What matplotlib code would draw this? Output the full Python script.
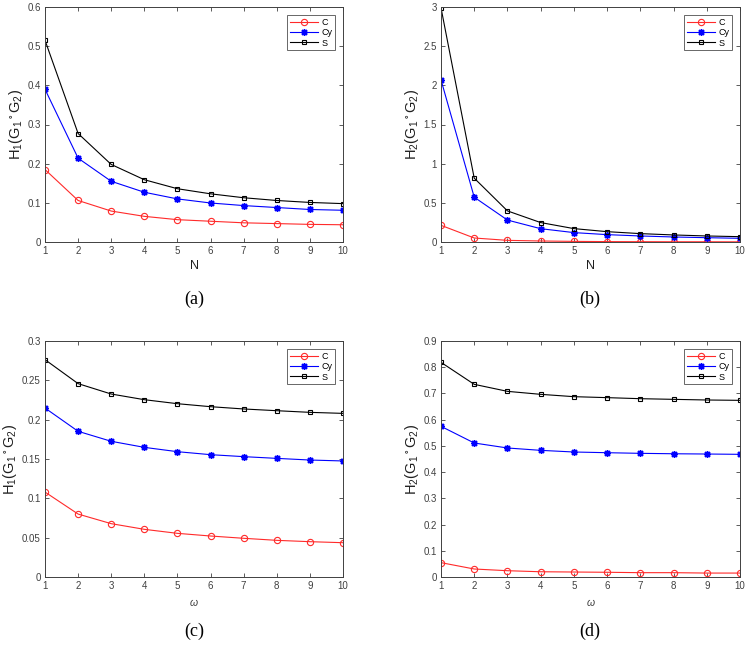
import matplotlib
matplotlib.use('Agg')
import matplotlib.pyplot as plt
import numpy as np

plt.rcParams['font.family'] = ['Liberation Sans', 'DejaVu Sans']
plt.rcParams['mathtext.fontset'] = 'custom'
plt.rcParams['mathtext.rm'] = 'Liberation Sans'
plt.rcParams['mathtext.it'] = 'Liberation Sans:italic'

# data
x = [1, 2, 3, 4, 5, 6, 7, 8, 9, 10]

# (a) H1 vs N
a_C = [0.185, 0.106, 0.079, 0.0655, 0.057, 0.053, 0.049, 0.047, 0.045, 0.044]
a_Cy = [0.390, 0.214, 0.155, 0.127, 0.110, 0.0996, 0.093, 0.088, 0.083, 0.081]
a_S = [0.515, 0.277, 0.198, 0.159, 0.136, 0.123, 0.113, 0.106, 0.101, 0.098]

# (b) H2 vs N
b_C = [0.213, 0.051, 0.021, 0.013, 0.008, 0.005, 0.004, 0.003, 0.003, 0.002]
b_Cy = [2.07, 0.572, 0.280, 0.170, 0.120, 0.094, 0.077, 0.064, 0.055, 0.047]
b_S = [2.99, 0.815, 0.397, 0.248, 0.171, 0.132, 0.107, 0.090, 0.077, 0.068]

# (c) H1 vs omega
c_C = [0.108, 0.080, 0.0678, 0.0606, 0.0555, 0.0521, 0.0492, 0.0466, 0.0449, 0.0436]
c_Cy = [0.2148, 0.1852, 0.1725, 0.1648, 0.1593, 0.1555, 0.153, 0.1508, 0.1487, 0.1475]
c_S = [0.2763, 0.2458, 0.2326, 0.2254, 0.2203, 0.2165, 0.2136, 0.2114, 0.2093, 0.208]

# (d) H2 vs omega
d_C = [0.0547, 0.0305, 0.024, 0.020, 0.019, 0.018, 0.0165, 0.0165, 0.015, 0.015]
d_Cy = [0.5746, 0.511, 0.492, 0.483, 0.4767, 0.474, 0.4716, 0.470, 0.469, 0.4678]
d_S = [0.8186, 0.7347, 0.708, 0.6966, 0.6877, 0.684, 0.680, 0.6775, 0.675, 0.6737]

labels = ['C', 'Cy', 'S']
gray = '#404040'

W, H = 747, 653
fig = plt.figure(figsize=(W / 100, H / 100), dpi=100)

def box(l, t, r, b):
    return [l / W, 1 - b / H, (r - l) / W, (b - t) / H]

panels = [
    (box(45, 7, 343, 242), a_C, a_Cy, a_S, 0.6, 0.1, 'H_1', 'N', '(a)', (194, 299)),
    (box(441, 7, 740, 242), b_C, b_Cy, b_S, 3.0, 0.5, 'H_2', 'N', '(b)', (590, 299)),
    (box(45, 341, 343, 577), c_C, c_Cy, c_S, 0.3, 0.05, 'H_1', r'$\omega$', '(c)', (194, 631)),
    (box(441, 341, 740, 577), d_C, d_Cy, d_S, 0.9, 0.1, 'H_2', r'$\omega$', '(d)', (590, 631)),
]

for pos, yc, ycy, ys, ymax, step, hname, xlab, cap, cpos in panels:
    ax = fig.add_axes(pos)
    ax.plot(x, yc, color='#ff2a2a', lw=0.8, marker='o', ms=4.5, mfc='none', mew=0.8, label=labels[0])
    ax.plot(x, ycy, color='#0000ff', lw=0.8, marker=(8, 2, 0), ms=5, mew=1.0, label=labels[1])
    ax.plot(x, ys, color='k', lw=0.8, marker='s', ms=3.5, mfc='none', mew=0.8, label=labels[2])
    ax.set_xlim(1, 10)
    ax.set_ylim(0, ymax)
    ax.set_xticks(x)
    yt = np.round(np.arange(0, ymax + step / 2, step), 3)
    ax.set_yticks(yt)
    ax.set_yticklabels(['%g' % v for v in yt])
    ax.tick_params(direction='in', top=True, right=True, length=3, width=0.6,
                   colors=gray, labelsize=7, pad=3)
    for sp in ax.spines.values():
        sp.set_color(gray)
        sp.set_linewidth(0.7)
    ax.set_ylabel(r'$\mathregular{%s(G_1\,^{\circ}\,G_2)}$' % hname, fontsize=10.5, color='#202020', labelpad=2)
    if xlab == 'N':
        ax.set_xlabel(xlab, fontsize=9, color='#202020', labelpad=3)
    else:
        ax.set_xlabel(xlab, fontsize=7.5, color=gray, labelpad=4)
    leg = ax.legend(loc='upper right', fontsize=6.5, frameon=True, fancybox=False,
                    handlelength=3.2, handletextpad=0.3, borderpad=0.3, labelspacing=0.15,
                    borderaxespad=0.9)
    leg.get_frame().set_edgecolor(gray)
    leg.get_frame().set_linewidth(0.7)
    fig.text(cpos[0] / W, 1 - cpos[1] / H, cap, ha='center', va='center',
             fontsize=13, family='Liberation Serif')

fig.savefig('out.png', dpi=100)
